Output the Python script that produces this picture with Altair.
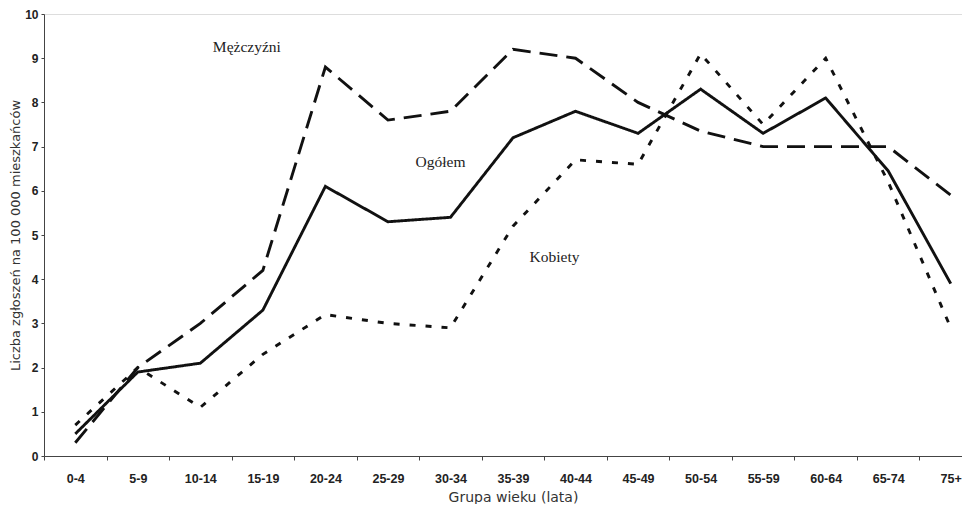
import altair as alt
import pandas as pd

groups = ["0-4", "5-9", "10-14", "15-19", "20-24", "25-29", "30-34", "35-39",
          "40-44", "45-49", "50-54", "55-59", "60-64", "65-74", "75+"]
men = [0.3, 2.0, 3.0, 4.2, 8.8, 7.6, 7.8, 9.2, 9.0, 8.0, 7.35, 7.0, 7.0, 7.0, 5.9]
total = [0.5, 1.9, 2.1, 3.3, 6.1, 5.3, 5.4, 7.2, 7.8, 7.3, 8.3, 7.3, 8.1, 6.45, 3.9]
women = [0.7, 2.0, 1.1, 2.3, 3.2, 3.0, 2.9, 5.2, 6.7, 6.6, 9.1, 7.5, 9.0, 6.2, 2.9]
series_names = ["Mężczyźni", "Ogółem", "Kobiety"]

label_texts = ["Mężczyźni", "Ogółem", "Kobiety"]
label_groups = ["15-19", "30-34", "40-44"]
label_values = [9.25, 6.65, 4.5]

rows = []
for name, vals in zip(series_names, [men, total, women]):
    for g, v in zip(groups, vals):
        rows.append({"grupa": g, "wartosc": v, "seria": name})
df = pd.DataFrame(rows)

x_enc = alt.X("grupa:N", sort=groups,
              scale=alt.Scale(domain=groups, range=[0, 938], paddingInner=0, paddingOuter=0),
              axis=alt.Axis(title="Grupa wieku (lata)", labelAngle=0, tickBand="extent",
                            tickSize=4, labelPadding=12, titlePadding=6,
                            labelFont="Liberation Sans", labelFontSize=12.5, labelFontWeight="bold",
                            labelColor="#222", titleFont="DejaVu Sans", titleFontSize=14,
                            titleFontWeight="normal", titleColor="#333",
                            domainColor="#444", tickColor="#444", grid=False))
y_enc = alt.Y("wartosc:Q", scale=alt.Scale(domain=[0, 10], nice=False),
              axis=alt.Axis(title="Liczba zgłoszeń na 100 000 mieszkańców",
                            values=list(range(0, 11)), tickSize=3, labelPadding=3,
                            titlePadding=2,
                            labelFont="Liberation Sans", labelFontSize=12, labelFontWeight="bold",
                            labelColor="#222", titleFont="DejaVu Sans", titleFontSize=13,
                            titleFontWeight="normal", titleColor="#333",
                            domainColor="#444", tickColor="#444", grid=False))

lines = alt.Chart(df).mark_line(color="#111", strokeWidth=2.9).encode(
    x=x_enc,
    y=y_enc,
    strokeDash=alt.StrokeDash("seria:N",
                              scale=alt.Scale(domain=series_names,
                                              range=[[18, 9], [1, 0], [6, 10]]),
                              legend=None),
    detail="seria:N",
)

lab_df = pd.DataFrame({"tekst": label_texts, "grupa": label_groups, "wartosc": label_values})
dxs = [-16, -10, -21]
texts = []
for i, dx in enumerate(dxs):
    texts.append(
        alt.Chart(lab_df.iloc[[i]]).mark_text(font="Liberation Serif", fontSize=15.5,
                                              color="#222", dx=dx, baseline="middle").encode(
            x=alt.X("grupa:N", sort=groups), y=alt.Y("wartosc:Q"), text="tekst:N")
    )

chart = alt.layer(lines, *texts).properties(
    width=918, height=442,
    autosize=alt.AutoSizeParams(type="none"),
    padding={"left": 36, "top": 6, "right": 0, "bottom": 48},
).configure_view(stroke=None).configure(background="white")

chart.save("out.html", embed_options={"renderer": "svg", "actions": False})
